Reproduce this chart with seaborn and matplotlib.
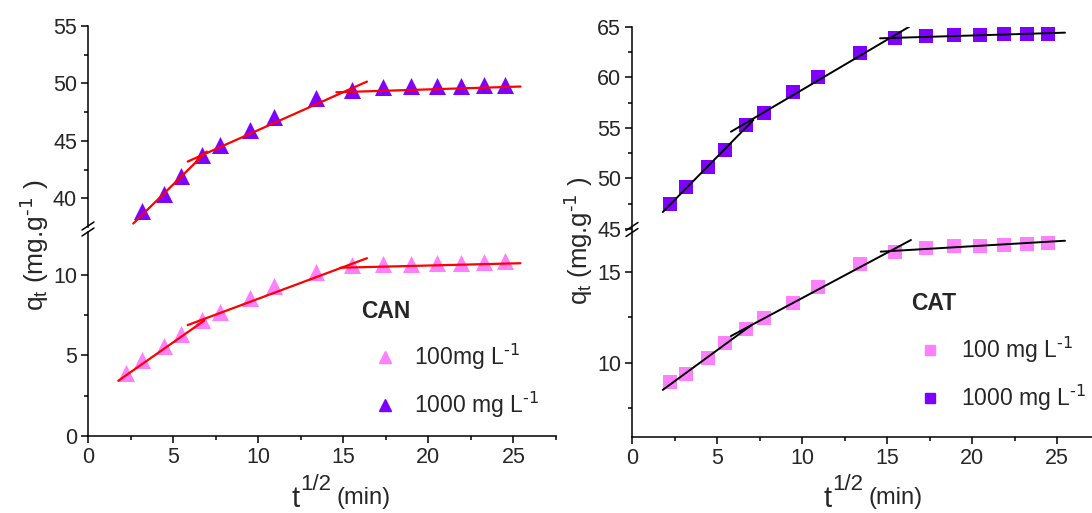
import numpy as np
import pandas as pd
import matplotlib
matplotlib.use("Agg")
import matplotlib.pyplot as plt
import seaborn as sns
from matplotlib.lines import Line2D

# ---------------- data ----------------
t_half = [2.24, 3.16, 4.47, 5.48, 6.71, 7.75, 9.49, 10.95, 13.42, 15.49,
          17.32, 18.97, 20.49, 21.91, 23.24, 24.49]

# CAN
x_can_100 = t_half
q_can_100 = [3.92, 4.70, 5.57, 6.33, 7.20, 7.70, 8.60, 9.33, 10.20, 10.60,
             10.66, 10.70, 10.73, 10.76, 10.79, 10.85]
x_can_1000 = t_half[1:]
q_can_1000 = [38.90, 40.38, 41.96, 43.80, 44.68, 45.93, 47.10, 48.70, 49.42,
              49.67, 49.76, 49.76, 49.81, 49.85, 49.90]

# CAT
x_cat_100 = t_half
q_cat_100 = [8.94, 9.40, 10.29, 11.12, 11.87, 12.45, 13.31, 14.19, 15.46, 16.12,
             16.34, 16.41, 16.45, 16.48, 16.54, 16.58]
x_cat_1000 = t_half
q_cat_1000 = [47.48, 49.16, 51.10, 52.85, 55.27, 56.45, 58.56, 60.05, 62.46, 63.91,
              64.11, 64.18, 64.21, 64.27, 64.29, 64.34]

# linear fit segments (x start, x end), (y start, y end)
fit_can_1000_x = [[2.66, 6.98], [5.86, 16.39], [14.59, 25.41]]
fit_can_1000_y = [[37.80, 44.07], [43.20, 50.16], [49.23, 49.73]]
fit_can_100_x = [[1.78, 6.82], [5.86, 16.39], [14.82, 25.41]]
fit_can_100_y = [[3.43, 7.16], [6.89, 11.04], [10.45, 10.73]]
fit_cat_1000_x = [[1.81, 7.14], [5.82, 16.31], [14.59, 25.47]]
fit_cat_1000_y = [[46.68, 55.79], [54.63, 65.03], [63.88, 64.44]]
fit_cat_100_x = [[1.81, 7.04], [5.82, 16.41], [14.63, 25.47]]
fit_cat_100_y = [[8.52, 12.09], [11.48, 16.76], [16.12, 16.72]]

label_100_can = r"100mg L$^{\text{-1}}$"
label_1000_can = r"1000 mg L$^{\text{-1}}$"
label_100_cat = r"100 mg L$^{\text{-1}}$"
label_1000_cat = r"1000 mg L$^{\text{-1}}$"

# ---------------- style ----------------
sns.set_style("ticks")
plt.rcParams["font.family"] = ["Liberation Sans", "DejaVu Sans"]
plt.rcParams["mathtext.default"] = "regular"

PURPLE = "#8000FF"
PINK = "#FF80FF"
RED = "#FF0000"
BLACK = "#000000"

W, H = 1092, 513
fig = plt.figure(figsize=(W / 100, H / 100), dpi=100)


def box(l, r, t, b):
    return [l / W, 1 - b / H, (r - l) / W, (b - t) / H]


def fx(px):
    return px / W


def fy(py):
    return 1 - py / H


def seg_df(xs, ys):
    rows = []
    for i, (xx, yy) in enumerate(zip(xs, ys)):
        for a, b in zip(xx, yy):
            rows.append({"x": a, "y": b, "seg": i})
    return pd.DataFrame(rows)


def style_axis(ax, top, yl, ymaj, ymin):
    ax.set_xlim(0, 27.5)
    ax.set_ylim(*yl)
    for s in ["top", "right"]:
        ax.spines[s].set_visible(False)
    for s in ["left", "bottom"]:
        ax.spines[s].set_linewidth(1.1)
        ax.spines[s].set_color("black")
    ax.set_yticks(ymaj)
    ax.set_yticks(ymin, minor=True)
    ax.set_xticks([0, 5, 10, 15, 20, 25])
    ax.set_xticks([2.5, 7.5, 12.5, 17.5, 22.5, 27.5], minor=True)
    ax.tick_params(which="major", direction="out", length=5, width=1.1,
                   labelsize=15.5, color="black", pad=3)
    ax.tick_params(which="minor", direction="out", length=3, width=1.1,
                   color="black")
    if top:
        ax.spines["bottom"].set_visible(False)
        ax.tick_params(axis="x", which="both", bottom=False, labelbottom=False)
    ax.set_xlabel("")
    ax.set_ylabel("")
    ax.set_facecolor("none")


def scatter(ax, x, y, color, marker, size):
    sns.scatterplot(x=x, y=y, ax=ax, color=color, marker=marker, s=size,
                    linewidth=0, legend=False, zorder=2)


def fits(ax, xs, ys, color, lw):
    d = seg_df(xs, ys)
    sns.lineplot(data=d, x="x", y="y", units="seg", estimator=None, sort=False,
                 ax=ax, color=color, linewidth=lw, zorder=3, legend=False)


# ---------------- left panel (CAN) ----------------
axLt = fig.add_axes(box(88, 556, 26, 227))
axLb = fig.add_axes(box(88, 556, 231.5, 436))

scatter(axLt, x_can_1000, q_can_1000, PURPLE, "^", 150)
fits(axLt, fit_can_1000_x, fit_can_1000_y, RED, 1.6)
scatter(axLb, x_can_100, q_can_100, PINK, "^", 150)
fits(axLb, fit_can_100_x, fit_can_100_y, RED, 1.6)

style_axis(axLt, True, (37.5, 55), [40, 45, 50, 55], [42.5, 47.5, 52.5])
style_axis(axLb, False, (0, 12.7), [0, 5, 10], [2.5, 7.5])

hL = [Line2D([], [], marker="^", color=PINK, linestyle="", markersize=8),
      Line2D([], [], marker="^", color=PURPLE, linestyle="", markersize=8)]
axLb.legend(hL, [label_100_can, label_1000_can], loc="center left",
            bbox_to_anchor=(fx(374), fy(381)), bbox_transform=fig.transFigure,
            frameon=False, fontsize=16.5, handlelength=1.0, handletextpad=0.75,
            labelspacing=0.75, borderpad=0, borderaxespad=0)
fig.text(fx(385.5), fy(312), "CAN", fontsize=16.5, fontweight="bold",
         ha="center", va="center")

# ---------------- right panel (CAT) ----------------
axRt = fig.add_axes(box(632, 1099.5, 27, 229))
axRb = fig.add_axes(box(632, 1099.5, 230, 437))

scatter(axRt, x_cat_1000, q_cat_1000, PURPLE, "s", 105)
fits(axRt, fit_cat_1000_x, fit_cat_1000_y, BLACK, 1.4)
scatter(axRb, x_cat_100, q_cat_100, PINK, "s", 105)
fits(axRb, fit_cat_100_x, fit_cat_100_y, BLACK, 1.4)

style_axis(axRt, True, (45, 65), [45, 50, 55, 60, 65], [47.5, 52.5, 57.5, 62.5])
style_axis(axRb, False, (5.93, 17.31), [10, 15], [7.5, 12.5])

hR = [Line2D([], [], marker="s", color=PINK, linestyle="", markersize=7),
      Line2D([], [], marker="s", color=PURPLE, linestyle="", markersize=7)]
axRb.legend(hR, [label_100_cat, label_1000_cat], loc="center left",
            bbox_to_anchor=(fx(919), fy(374)), bbox_transform=fig.transFigure,
            frameon=False, fontsize=16.5, handlelength=1.0, handletextpad=0.85,
            labelspacing=0.8, borderpad=0, borderaxespad=0)
fig.text(fx(934), fy(303), "CAT", fontsize=16.5, fontweight="bold",
         ha="center", va="center")

# ---------------- axis titles ----------------
ylab = r"q$_{t}$ (mg.g$^{\text{-1}}$ )"
fig.text(fx(35), fy(245), ylab, rotation=90, fontsize=19, ha="center", va="center")
fig.text(fx(579), fy(241), ylab, rotation=90, fontsize=18.5, ha="center", va="center")

for x0 in (292, 824):
    fig.text(fx(x0), fy(507), "t", fontsize=21, ha="left", va="baseline")
    fig.text(fx(x0 + 8), fy(490), "1/2", fontsize=16, ha="left", va="baseline")
    fig.text(fx(x0 + 45), fy(504), "(min)", fontsize=17, ha="left", va="baseline")

# ---------------- axis break marks ----------------
for sx, yb in ((88, 229), (632, 229.5)):
    for dy in (-3, 3):
        fig.add_artist(Line2D([fx(sx - 6), fx(sx + 6)],
                              [fy(yb + dy + 4), fy(yb + dy - 4)],
                              transform=fig.transFigure, color="black", lw=1.1))

fig.savefig("out.png", dpi=100)
